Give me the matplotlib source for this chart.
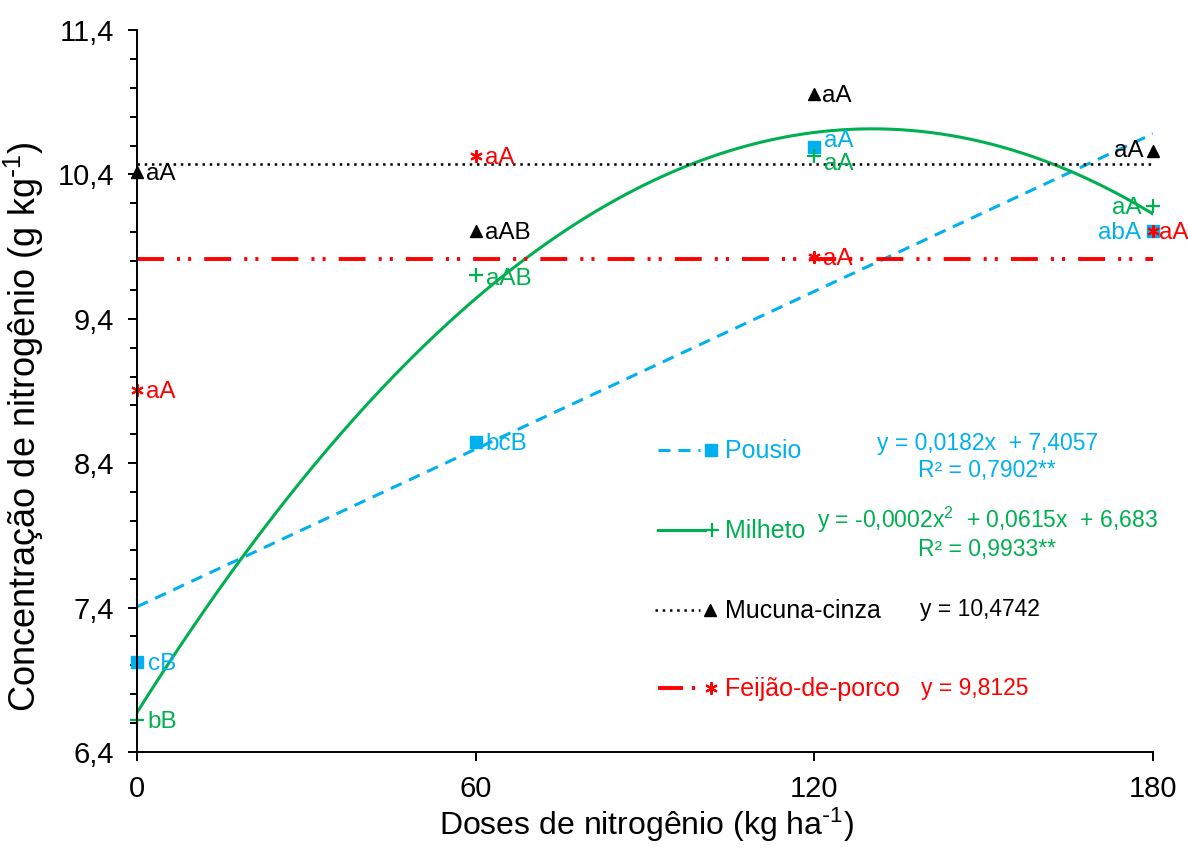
import numpy as np
import matplotlib
matplotlib.use('Agg')
import matplotlib.pyplot as plt
from matplotlib.ticker import MultipleLocator, FuncFormatter

plt.rcParams['font.family'] = ['Liberation Sans', 'DejaVu Sans']
plt.rcParams['mathtext.default'] = 'regular'
plt.rcParams['lines.scale_dashes'] = False

# doses de N (kg/ha)
doses = [0, 60, 120, 180]

pousio = [7.02, 8.55, 10.59, 10.01]
milheto = [6.62, 9.70, 10.53, 10.18]
mucuna = [10.42, 10.01, 10.96, 10.56]
feijao = [8.91, 10.53, 9.83, 10.01]

lab_pousio = ['cB', 'bcB', 'aA', 'abA']
lab_milheto = ['bB', 'aAB', 'aA', 'aA']
lab_mucuna = ['aA', 'aAB', 'aA', 'aA']
lab_feijao = ['aA', 'aA', 'aA', 'aA']

pousio_coef = [0.0182, 7.4057]
mucuna_media = 10.4742
feijao_media = 9.8125

yticks = [6.4, 7.4, 8.4, 9.4, 10.4, 11.4]

eq_pousio = ['y = 0,0182x  + 7,4057', 'R² = 0,7902**']
eq_milheto = ['y = -0,0002x$^{2}$  + 0,0615x  + 6,683', 'R² = 0,9933**']
eq_mucuna = 'y = 10,4742'
eq_feijao = 'y = 9,8125'

BLUE = '#00B0F0'
GREEN = '#00B050'
RED = '#FF0000'
BLACK = '#000000'

fig = plt.figure(figsize=(11.88, 8.5), dpi=100)
ax = fig.add_axes([0.1153, 0.1153, 0.8552, 0.8494])

# trend lines
xf = np.linspace(doses[0], doses[-1], 300)
ls_blue = (0, (8.6, 5.8))
ls_black = (0, (1.8, 3.4))
ls_red = (0, (19.4, 9.4, 2.2, 5.8, 2.2, 9.4))
ax.plot(xf, np.polyval(pousio_coef, xf), color=BLUE, lw=2.2, ls=ls_blue)
ax.plot(xf, np.polyval(np.polyfit(doses, milheto, 2), xf), color=GREEN, lw=2.2)
ax.plot([doses[0], doses[-1]], [mucuna_media] * 2, color=BLACK, lw=1.8, ls=ls_black)
ax.plot([doses[0], doses[-1]], [feijao_media] * 2, color=RED, lw=2.8, ls=ls_red)

# points
ax.plot(doses, pousio, ls='none', marker='s', ms=8.5, color=BLUE, clip_on=False)
ax.plot(doses, milheto, ls='none', marker='+', ms=10, mew=1.6, color=GREEN, clip_on=False)
ax.plot(doses, mucuna, ls='none', marker='^', ms=9, color=BLACK, clip_on=False)
ax.plot(doses, feijao, ls='none', marker=(6, 2, 0), ms=9, mew=1.5, color=RED, clip_on=False)

# label offsets in pixels (dx, dy, ha)
off_pousio = [(11, -2, 'left'), (10, -2, 'left'), (10, 6, 'left'), (-12, -2, 'right')]
off_milheto = [(10, -2, 'left'), (10, -4, 'left'), (10, -8, 'left'), (-11, -2, 'right')]
off_mucuna = [(9, -2, 'left'), (9, -2, 'left'), (8, -2, 'left'), (-9, 0, 'right')]
off_feijao = [(9, -2, 'left'), (9, -2, 'left'), (9, -2, 'left'), (6, -2, 'left')]

series = [(pousio, lab_pousio, off_pousio, BLUE),
          (milheto, lab_milheto, off_milheto, GREEN),
          (mucuna, lab_mucuna, off_mucuna, BLACK),
          (feijao, lab_feijao, off_feijao, RED)]
for vals, labs, offs, c in series:
    for x, v, lab, (dx, dy, ha) in zip(doses, vals, labs, offs):
        ax.annotate(lab, (x, v), xytext=(dx, dy), textcoords='offset pixels',
                    ha=ha, va='center', color=c, fontsize=17.5, annotation_clip=False)

# legend (drawn by hand, like the excel one)
tr = ax.transAxes
ax.plot([0.513, 0.554], [0.418, 0.418], transform=tr, color=BLUE, lw=2.2, ls=ls_blue, clip_on=False)
ax.plot([0.565], [0.418], transform=tr, marker='s', ms=8.5, color=BLUE, clip_on=False)
ax.plot([0.513, 0.559], [0.307, 0.307], transform=tr, color=GREEN, lw=2.2, clip_on=False)
ax.plot([0.566], [0.307], transform=tr, marker='+', ms=10, mew=1.6, color=GREEN, clip_on=False)
ax.plot([0.510, 0.554], [0.197, 0.197], transform=tr, color=BLACK, lw=1.8, ls=ls_black, clip_on=False)
ax.plot([0.564], [0.197], transform=tr, marker='^', ms=9, color=BLACK, clip_on=False)
ax.plot([0.513, 0.5535], [0.0886, 0.0886], transform=tr, color=RED, lw=2.8,
        ls=(0, (18, 6.5, 2.2, 20)), clip_on=False)
ax.plot([0.565], [0.0886], transform=tr, marker=(6, 2, 0), ms=9, mew=1.5, color=RED, clip_on=False)

leg_fs = 18
ax.text(0.579, 0.407, 'Pousio', transform=tr, color=BLUE, fontsize=leg_fs, va='baseline')
ax.text(0.579, 0.296, 'Milheto', transform=tr, color=GREEN, fontsize=leg_fs, va='baseline')
ax.text(0.579, 0.186, 'Mucuna-cinza', transform=tr, color=BLACK, fontsize=leg_fs, va='baseline')
ax.text(0.579, 0.0776, 'Feijão-de-porco', transform=tr, color=RED, fontsize=leg_fs, va='baseline')

eq_fs = 16.5
ax.text(0.837, 0.418, eq_pousio[0], transform=tr, color=BLUE, fontsize=eq_fs, ha='center', va='baseline')
ax.text(0.837, 0.381, eq_pousio[1], transform=tr, color=BLUE, fontsize=eq_fs, ha='center', va='baseline')
ax.text(0.837, 0.310, eq_milheto[0], transform=tr, color=GREEN, fontsize=eq_fs, ha='center', va='baseline')
ax.text(0.837, 0.271, eq_milheto[1], transform=tr, color=GREEN, fontsize=eq_fs, ha='center', va='baseline')
ax.text(0.771, 0.188, eq_mucuna, transform=tr, color=BLACK, fontsize=eq_fs, va='baseline')
ax.text(0.772, 0.079, eq_feijao, transform=tr, color=RED, fontsize=eq_fs, va='baseline')

# axes
ax.set_xlim(0, 180)
ax.set_ylim(6.4, 11.4)
ax.set_xticks(doses)
ax.set_yticks(yticks)
ax.yaxis.set_minor_locator(MultipleLocator(0.2))
ax.yaxis.set_major_formatter(FuncFormatter(lambda v, p: f'{v:.1f}'.replace('.', ',')))
for s in ['top', 'right']:
    ax.spines[s].set_visible(False)
for s in ['left', 'bottom']:
    ax.spines[s].set_linewidth(1.4)
ax.tick_params(which='major', length=6.5, width=1.4, labelsize=21, pad=10)
ax.tick_params(axis='y', which='minor', length=5, width=1.4)

ax.set_xlabel('Doses de nitrogênio (kg ha$^{\\text{-}1}$)', fontsize=23)
ax.set_ylabel('Concentração de nitrogênio (g kg$^{\\text{-}1}$)', fontsize=26)
ax.xaxis.set_label_coords(0.501, -0.075)
ax.yaxis.set_label_coords(-0.09, 0.45)

fig.savefig('out.png', dpi=100)
